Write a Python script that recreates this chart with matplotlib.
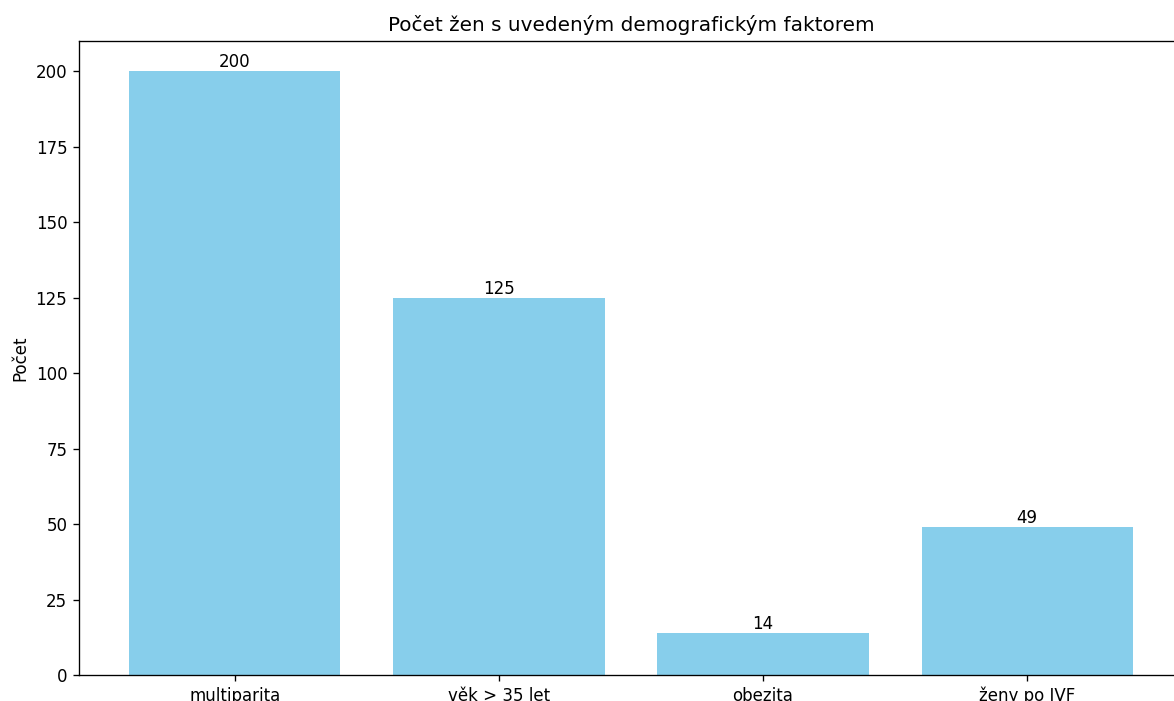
import matplotlib
matplotlib.use("Agg")
import matplotlib.pyplot as plt

plt.rcParams['font.family'] = ['DejaVu Sans']

categories = ["multiparita", "věk > 35 let", "obezita", "ženy po IVF"]
values = [200, 125, 14, 49]

W, H = 1174, 701
DPI = 120
fig = plt.figure(figsize=(W / DPI, H / DPI), dpi=DPI)
ax = fig.add_axes([79 / W, (H - 675) / H, 1104 / W, 634 / H])
bars = ax.bar(categories, values, color="skyblue")
for b, v in zip(bars, values):
    ax.text(b.get_x() + b.get_width() / 2, v, str(v), ha="center", va="bottom")
ax.set_title("Počet žen s uvedeným demografickým faktorem")
ax.set_ylabel("Počet")
fig.savefig("out.png", dpi=DPI)
